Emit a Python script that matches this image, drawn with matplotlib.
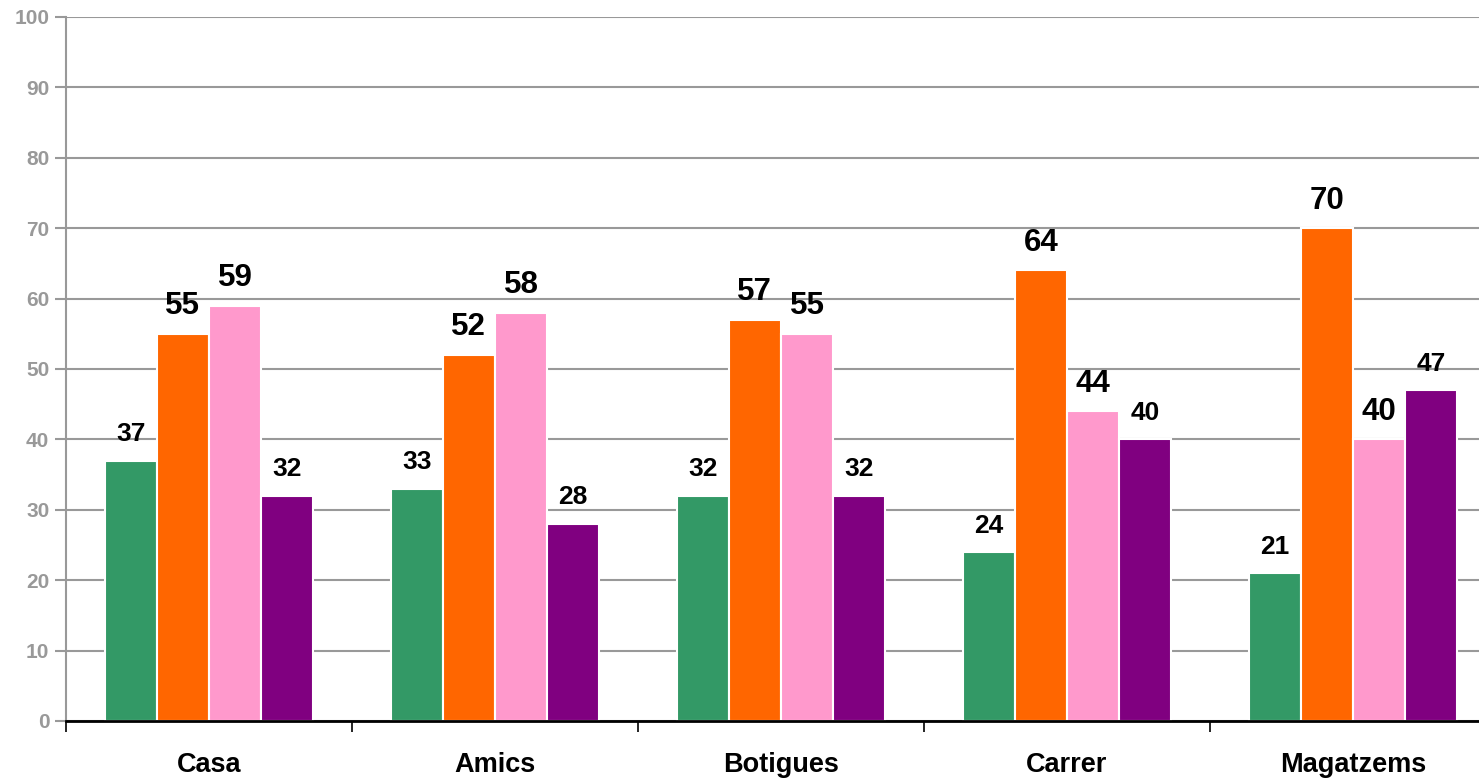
import numpy as np
import matplotlib.pyplot as plt

categories = ["Casa", "Amics", "Botigues", "Carrer", "Magatzems"]
green_vals = [37, 33, 32, 24, 21]
orange_vals = [55, 52, 57, 64, 70]
pink_vals = [59, 58, 55, 44, 40]
purple_vals = [32, 28, 32, 40, 47]

# values, colour, label size
series = [
    (green_vals, "#339966", 19),
    (orange_vals, "#FF6600", 22.5),
    (pink_vals, "#FF99CC", 22.5),
    (purple_vals, "#800080", 19),
]

plt.rcParams["font.family"] = ["Liberation Sans", "DejaVu Sans"]

fig = plt.figure(figsize=(14.79, 7.79), dpi=100)
ax = fig.add_axes([66 / 1479, 1 - 721 / 779, 1430 / 1479, 704 / 779])

x = np.arange(len(categories))
width = 0.1825

for k, (vals, color, fsize) in enumerate(series):
    pos = x + (k - 1.5) * width
    ax.bar(pos, vals, width=width, color=color, edgecolor="white",
           linewidth=1.5, zorder=3)
    for px, v in zip(pos, vals):
        ax.annotate(str(v), (px, v), xytext=(0, 14), textcoords="offset points",
                    ha="center", va="baseline", fontsize=fsize,
                    fontweight="bold", color="black", zorder=4)

ax.set_xlim(-0.5, len(categories) - 0.5)
ax.set_ylim(0, 100)
ax.set_yticks(range(0, 101, 10))
ax.yaxis.grid(True, color="#999999", linewidth=1.5, zorder=0)
ax.set_axisbelow(True)

ax.set_xticks(x)
ax.set_xticklabels(categories, fontsize=19.5, fontweight="bold")
ax.set_xticks(np.arange(-0.5, len(categories), 1.0), minor=True)
ax.tick_params(axis="x", which="major", length=0, pad=22)
ax.tick_params(axis="x", which="minor", length=8, width=1.2, color="black",
               direction="out")
ax.tick_params(axis="y", length=8, width=1.5, color="#999999",
               labelcolor="#999999", labelsize=15, pad=4)
for lbl in ax.get_yticklabels():
    lbl.set_fontweight("bold")

ax.spines["top"].set_visible(False)
ax.spines["right"].set_visible(False)
ax.spines["left"].set_color("#999999")
ax.spines["left"].set_linewidth(1.5)
ax.spines["bottom"].set_color("black")
ax.spines["bottom"].set_linewidth(2)
ax.spines["bottom"].set_zorder(5)

fig.savefig("out.png", dpi=100)
